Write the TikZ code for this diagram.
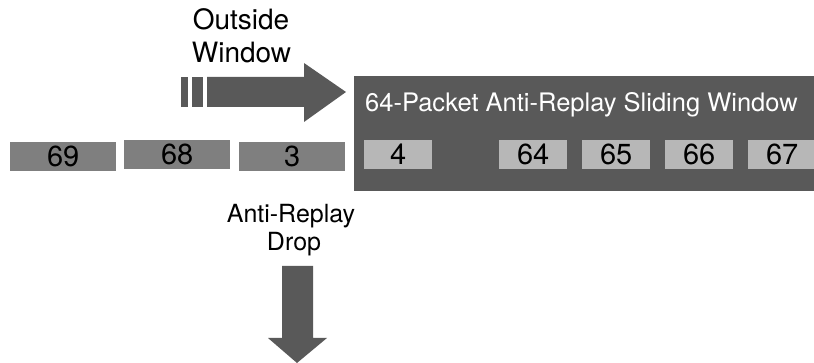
\documentclass[tikz,border=0pt]{standalone}
\usepackage{fontspec}
\setmainfont{TeX Gyre Heros}
\definecolor{darkg}{HTML}{595959}
\definecolor{midg}{HTML}{7F7F7F}
\definecolor{lightg}{HTML}{B7B7B7}
\begin{document}
\begin{tikzpicture}[x=1pt,y=1pt,
  pkt/.style={fill=#1,draw=none,inner sep=0pt,minimum height=29pt,minimum width=68pt,anchor=south west},
  num/.style={font=\fontsize{29}{30}\selectfont,anchor=base,inner sep=0pt},
  lbl/.style={font=\fontsize{28}{33}\selectfont,align=center,inner sep=0pt},
  arr/.style={fill=darkg,draw=none}]
\useasboundingbox (0,0) rectangle (814,363);
% window
\fill[darkg] (354,172) rectangle (814,287);
\node[anchor=base west,text=white,inner sep=0pt,font=\fontsize{25.5}{30}\selectfont] (title) at (365,251) {64-Packet Anti-Replay Sliding Window};
% inner packets
\begin{scope}
\clip (0,0) rectangle (814,363);
\node[pkt=lightg] (p4) at (364,194) {};
\node[pkt=lightg] (p64) at (499,194) {};
\node[pkt=lightg] (p65) at (582,194) {};
\node[pkt=lightg] (p66) at (665,194) {};
\node[pkt=lightg] (p67) at (748,194) {};
\end{scope}
\node[num] at ([yshift=4pt]p4.south) {4};
\node[num] at ([yshift=4pt]p64.south) {64};
\node[num] at ([yshift=4pt]p65.south) {65};
\node[num] at ([yshift=4pt]p66.south) {66};
\node[num] at ([yshift=4pt]p67.south) {67};
% outside packets
\node[pkt=midg,minimum width=106pt] (p69) at (10,192) {};
\node[pkt=midg,minimum width=106pt] (p68) at (124,194) {};
\node[pkt=midg,minimum width=106pt] (p3) at (239,192) {};
\node[num] at ([yshift=4pt]p69.south) {69};
\node[num] at ([yshift=4pt]p68.south) {68};
\node[num] at ([yshift=4pt]p3.south) {3};
% labels
\node[lbl,anchor=base] (outside) at (241,333) {Outside};
\node[lbl,anchor=base] (windowlbl) at (241.5,300) {Window};
\node[anchor=base,inner sep=0pt,font=\fontsize{25}{30}\selectfont] (antireplay) at (291,140) {Anti-Replay};
\node[anchor=base,inner sep=0pt,font=\fontsize{25}{30}\selectfont] (drop) at (294,112) {Drop};
% right arrow
\fill[arr] (181,256) rectangle (188,286);
\fill[arr] (192,256) rectangle (203,286);
\fill[arr] (207,256) -- (304,256) -- (304,241) -- (346,271) -- (304,300) -- (304,286) -- (207,286) -- cycle;
% down arrow
\fill[arr] (282,97) -- (282,25) -- (268,25) -- (297,0) -- (327,25) -- (313,25) -- (313,97) -- cycle;
\end{tikzpicture}
\end{document}
